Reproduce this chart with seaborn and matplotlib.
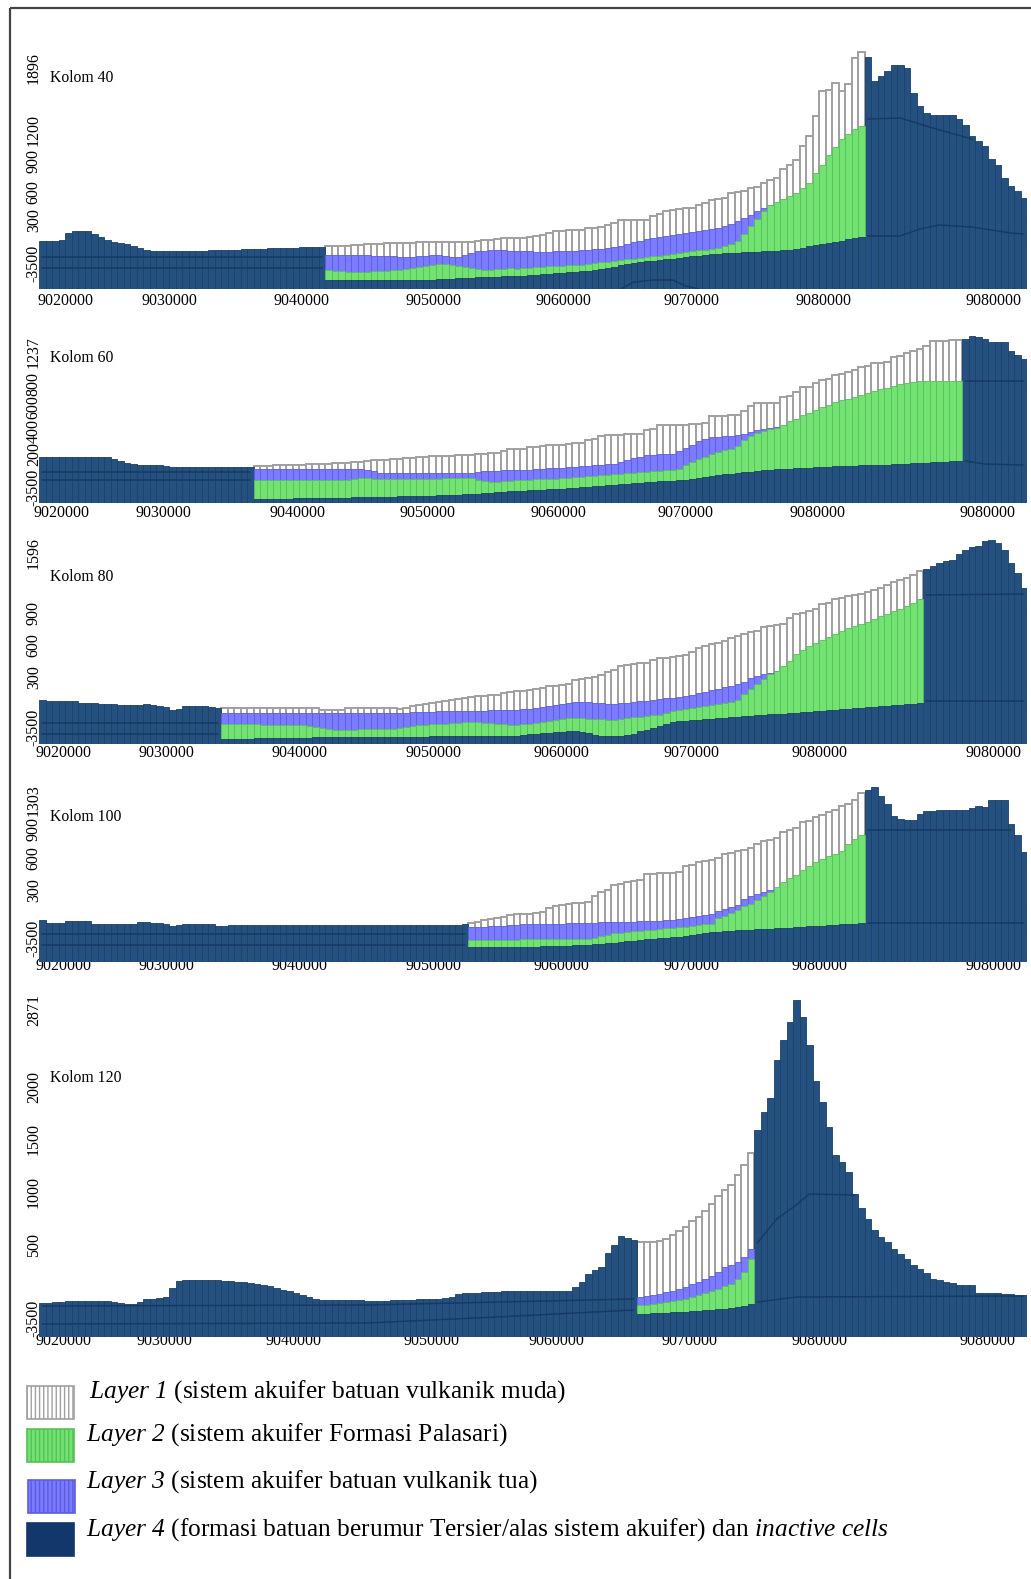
import numpy as np
import pandas as pd
import matplotlib
matplotlib.use("Agg")
import matplotlib.pyplot as plt
from matplotlib.patches import Rectangle
import seaborn as sns

# tinggi tiap kolom grid (1 satuan = 1 piksel di atas dasar panel)
kolom_40_top = [48,48,48,49,56,58,58,58,55,52,49,47,46,45,43,41,39] + [38]*9 + [39,39,39,39,39,40,40,40,40,41,41,41,41,41,42,42,42,42] \
    + [43,43,43,43,44,44,45,45,45,46,46,46,46,46,47,47,47,47,47,47,47,47,47,48,49,49,50,51,51] \
    + [51,51,52,53,54,56,58,58,59,59,59,61,61,62,64,66,69,69,69,69,69,73,75,78,79,80,81,81,84,86,89,90,91,96,97,98,101,102,106,109,111,120,124,129,143,153,173,198,199,206,198,205,231,237] \
    + [232,208,213,218,224,224,221,196,183,176,174,174,174,174,170,164,153,148,143,130,124,111,103,98,91]
kolom_40_start = 44
kolom_40_blue = [34]*7 + [33,33,33,33,32,32,32,33,33,34,34,33,32,32,34,36,38,38,39,39,39,38,38,38,38,37,37,37,38,38,38,38,39,39,40,40,41,42,43,45,47,48,50,51,52,53,54,55,56,57,58,59,60,61,63,65,68,71,74,78,81,84]
kolom_40_green = [19,18,18,17,17,17,17,18,18,18,19,19,20,21,22,23,24,25,25,24,23,22,21,20,19,19,20,20,21,20,21,21,22,22,23,23,23,24,24,24,25,26,27,27,28,29,30,30,31,32,33,33,34,35,36,37,38,39,39,40,41,43,45,48,55,63,70,78,84,87,90,93,96,101,106,116,124,134,142,150,155,160,163]
kolom_40_base = [9]*17 + [10,10,10,11,11,11,12,12,12,12,13,13,13,13,14,14,15,15,16,16,17,17,18,18,19,20,21,22,24,25,26,27,28,28,29,30,30,31,32,33,33,34,35,35,36,36,36,37,37,37,38,38,38,39,39,40,41,43,44,45,46,47,48,50,51,52]

kolom_60_top = [46]*11 + [44,42,40,39,38,38,38,38,37] + [36]*13 \
    + [37,37,37,38,38,38,38,38,39,39,39,39,40,40,40,41,41,42,43,43,43,44,44,45,45,46,46,47,47,47,47,48,48,48,49,49,50,50,52,54,54] \
    + [54,56,56,57,58,58,58,59,60,60,63,64,67,68,68,68,69,69,69,73,74,78,78,78,78,78,79,79,80,87,87,87,88,88,92,97,100,100,100,100,106,107,111,116,116,120,123,124,128,129,131,133,136,137,140,140,141,146,147,150,152,154,157,162,162,162,163,163] \
    + [164,167,166,164,161,161,161,152,148,144]
kolom_60_start = 33
kolom_60_blue = [34]*17 + [33,32] + [30]*15 + [31,32,32,32,33,33,33,33,33,34,34,35,35,35,36,36,37,37,38,38,39,39,41,43,45,46,48,48,49,49,49,52,55,58,62,64,66,66,67,67,68,69,71,73,74,75,76]
kolom_60_green = [23]*15 + [24,25,25,24] + [24]*10 + [25]*5 + [23,22,21,21,22,22,23,23,23,24,24,24,24,25,25,26,26,27,27,28,28,29,29,30,30,31,31,32,32,33,33,34,38,41,44,46,49,51,53,54,57,63,67,70,72,74,75,78,82,84,88,90,93,96,98,101,103,104,106,108,110,112,114,115,117,119,120,121] + [122]*7
kolom_60_base = [4,4,4,4,4,4,5,5,5,5,5,5,5,5,5,6,6,6,6,6,6,6,7,7,7,7,7,7,8,8,8,8,9,9,9,10,10,11,11,12,12,12,13,13,13,14,14,14,15,15,16,16,17,17,18,18,19,19,20,20,21,21,22,22,22,23,23,24,25,26,27,28,29,29,30,31,31,32,33,33,34,34,34,35,35,35,36,36,36,37,37,37,37,38,38,38,38,38,39,39,39,40,40,40,41,41,41,42,42]

kolom_80_top = [44,43,43,43,43,43,41,41,41,40,40,40,39,39,39,39,40,39,38,37,34,35,38,38,38,38,37,36] + [36]*15 + [34]*4 + [36]*8 \
    + [35,36,38,39,40,41,42,43,44,45,46,47,48,48,49,49,51,52,53] \
    + [53,54,55,56,58,58,59,60,64,65,66,67,69,72,74,78,79,80,81,81,84,86,86,87,88,89,92,96,98,100,101,103,106,108,110,112,113,117,118,119,120,126,130,131,133,135,140,141,145,146,148,149,150,152,154,156,159,162,164,166,169,173] \
    + [175,178,181,183,184,190,194,197,198,203,204,201,194,181,171,156]
kolom_80_start = 28
kolom_80_blue = [31]*27 + [31,31,32,32,32,32,33,33,33,33,33,33,33,33,34,34,34,34,34,35,35,36,37,38,39,40,41,42,42,42,41,41,40,40,41,41,42,43,43,44,45,46,46,47,48,49,51,52,54,55,57,58,60,62,66,68,70,71,73]
kolom_80_green = [20]*6 + [19]*6 + [19,18,17,16,15,14,14,14,14,15,15,15,15,15,15,16,17,18,19,19,20,20,20,21,21,22,22,22,21,21,20,20,19,19,20,20,21,22,23,24,25,26,26,26,25,25,25,24,24,25,26,27,27,28,29,29,31,33,34,35,36,37,38,39,40,41,42,44,50,55,60,65,70,73,78,83,90,94,98,101,104,107,110,113,116,118,120,122,125,128,130,133,135,138,141,145]
kolom_80_base = [5]*5 + [6]*9 + [7]*18 + [8]*14 + [9,10,10,11,11,12,12,13,13,12,11,9,8,8,8,8,9,10,13,14,16,18,20,22,23,23,24,24,25,25,26,26,27,27,28,28,29,29,30,30,30,31,31,32,32,33,33,34,34,35,35,36,36,37,37,38,38,39,39,40,40,41]

kolom_100_top = [42,39,39,39,41,41,41,41] + [38]*7 + [40,40,39,39,38,36,37,38,38,38,38,38,36,36] + [37]*36 + [38] \
    + [39,40,42,43,44,45,47,48,48,48,49,50,54,56,57,58,59,59,60,66,70,72,77,78,80,81,82,88,88,89,89,89,90,96,97,100,101,102,104,108,109,111,112,114,118,121,122,124,130,132,134,140,141,145,147,150,152,156,158,162,169] \
    + [172,175,166,158,146,143,142,142,148,151,151,152,152,152,152,152,154,156,155,162,162,162,138,127,110]
kolom_100_start = 66
kolom_100_blue = [35,35,35,36,36,36,37,37] + [38]*7 + [39]*5 + [40]*6 + [41,41,41,41,42,42,43,44,45,46,47,48,51,53,55,57,63,66,68,70,72]
kolom_100_green = [22]*8 + [23]*11 + [24,26,27,29,29,30,31,31,32,32,33,34,34,35,35,36,37,38,38,44,46,49,52,56,58,62,66,70,75,80,84,87,92,96,100,103,106,108,111,118,123,127]
kolom_100_base = [15]*11 + [16]*5 + [17]*3 + [18,18,19,19,20,21,21,22,23,23,24,24,25,25,26,27,28,29,30,30,31,31,32,32,32,33,33,33,34,34,34,35,35,36,36,36,37,37,38,38,38,39]

kolom_120_top = [34,34,35,35,36,36,36,36,36,36,36,35,34,33,33,35,38,38,39,40,49,56] + [57]*6 + [56,56,55,55,54,53,52,51,49,47,46,44,42,40,38,37] \
    + [37]*6 + [36,36,36,36,37,37,37,37,38,38,38,38,39,40,43,44,44,44,45,45,45,46,46,46] \
    + [46]*8 + [50,55,63,67,70,84,92,101,99,97] \
    + [95,95,95,96,98,102,106,110,116,120,126,133,141,147,152,162,172,184] \
    + [207,225,239,277,297,315,337,320,292,256,235,210,182,175,165,143,129,118,107,100,95,88,83,78,72,68,64,58,57,55,54,52,52,52,44,44,44,44,43,43,42,42]
kolom_120_start = 92
kolom_120_blue = [40,41,42,43,45,46,48,50,53,55,58,61,65,70,72,75,80,88]
kolom_120_green = [32,32,33,34,35,36,37,38,40,42,44,46,48,51,53,58,65,78]
kolom_120_base = [23,23,24,24,24,25,25,25,26,26,27,27,28,28,29,30,31,33]

# garis batas layer di dalam sel tidak aktif: (kolom, tinggi)
kolom_40_lines = [([0,43],[32,32]), ([0,43],[21,21]), ([89,91,94,97,99,101],[0,7,9,9,3,0]),
                  ([127,132,137,143],[170,171,161,150]), ([127,132,135,138,143,149,151],[53,53,60,64,62,56,55])]
kolom_60_lines = [([0,32],[31,31]), ([0,32],[23,23]), ([142,151],[122,122]), ([142,145,151],[42,39,38])]
kolom_80_lines = [([0,27],[21,21]), ([0,27],[10,10]), ([136,151],[149,150]), ([136,151],[43,43])]
kolom_100_lines = [([0,65],[28,28]), ([0,65],[17,17]), ([127,149],[132,132]), ([127,151],[39,39])]
kolom_120_lines = [([0,50,91],[31,32,38]), ([0,50,70,91],[13,14,20,27]), ([110,113,116,118,125],[94,118,132,143,142]),
                   ([110,116,151],[35,40,41])]

# label sumbu
x_labels = ["9020000","9030000","9040000","9050000","9060000","9070000","9080000","9080000"]
kolom_40_yticks = ["1896","1200","900","600","300","-3500"]
kolom_60_yticks = ["1237","800","600","400","200","-3500"]
kolom_80_yticks = ["1596","900","600","300","-3500"]
kolom_100_yticks = ["1303","900","600","300","-3500"]
kolom_120_yticks = ["2871","2000","1500","1000","500","-3500"]

legend_labels = [r"$\mathit{Layer\ 1}$ (sistem akuifer batuan vulkanik muda)",
                 r"$\mathit{Layer\ 2}$ (sistem akuifer Formasi Palasari)",
                 r"$\mathit{Layer\ 3}$ (sistem akuifer batuan vulkanik tua)",
                 r"$\mathit{Layer\ 4}$ (formasi batuan berumur Tersier/alas sistem akuifer) dan $\mathit{inactive\ cells}$"]

sns.set_style("white")
plt.rcParams["font.family"] = ["Liberation Serif", "DejaVu Serif"]
plt.rcParams["mathtext.fontset"] = "custom"
plt.rcParams["mathtext.it"] = "Liberation Serif:italic"
# angka di \mathit diambil dari font rm, jadi rm juga miring
plt.rcParams["mathtext.rm"] = "Liberation Serif:italic"
plt.rcParams["hatch.linewidth"] = 1.0

W, H = 1031, 1579
DARK, DARK_EDGE = "#255180", "#1b4069"
GREEN, GREEN_EDGE = "#72e272", "#58c058"
BLUE, BLUE_EDGE = "#7b7bff", "#5c5ce0"
GREY = "#a0a0a0"

fig = plt.figure(figsize=(W / 100, H / 100), dpi=100)
fig.patch.set_facecolor("white")


def bars(ax, df, col, color, edge, lw=0.6):
    part = df.dropna(subset=[col])
    sns.barplot(data=part, x="kol", y=col, native_scale=True, width=1, color=color,
                saturation=1, edgecolor=edge, linewidth=lw, ax=ax)


def panel(name, bottom, height, top, start, blue, green, base, lines, yt_labels, yt_pos, xt_px, pad, boxed, label_y):
    ax = fig.add_axes([39 / W, 1 - bottom / H, 988 / W, height / H])
    df = pd.DataFrame({"kol": np.arange(len(top)), "top": np.array(top, dtype=float)})
    end = start + len(green)
    df["blue"] = pd.Series(blue, index=range(start, start + len(blue)), dtype=float)
    df["green"] = pd.Series(green, index=range(start, end), dtype=float)
    df["base"] = pd.Series(base, index=range(start, start + len(base)), dtype=float)
    active = df["kol"].between(start, end - 1)
    df["white"] = df["top"].where(active)
    df["dark"] = df["top"].where(~active)

    bars(ax, df, "white", "white", GREY, 1.4)
    bars(ax, df, "dark", DARK, DARK_EDGE)
    bars(ax, df, "blue", BLUE, BLUE_EDGE)
    bars(ax, df, "green", GREEN, GREEN_EDGE)
    bars(ax, df, "base", DARK, DARK_EDGE)

    for xs, ys in lines:
        sns.lineplot(x=xs, y=ys, color="#163a63", linewidth=1.1, ax=ax, legend=False, errorbar=None)

    ax.set_xlim(-0.5, 151.5)
    ax.set_ylim(0, height)
    ax.set_xlabel("")
    ax.set_ylabel("")
    sns.despine(ax=ax, left=True, bottom=True)
    ax.patch.set_alpha(0)
    ax.set_xticks((np.array(xt_px) - 39) / 6.5 - 0.5, x_labels)
    ax.set_yticks(yt_pos, yt_labels)
    ax.tick_params(axis="x", length=0, pad=pad, labelsize=11.5, labelcolor="black")
    ax.tick_params(axis="y", length=0, pad=-2, labelsize=11.5, labelcolor="black")
    for t in ax.get_yticklabels():
        t.set_rotation(90)
        t.set_va("center")
    if boxed:
        for t in ax.get_xticklabels():
            t.set_bbox(dict(fc="white", ec="none", pad=1.5))
    fig.text(50 / W, 1 - label_y / H, name, fontsize=11.3, va="center", ha="left", color="black")


panel("Kolom 40", 289, 260, kolom_40_top, kolom_40_start, kolom_40_blue, kolom_40_green, kolom_40_base,
      kolom_40_lines, kolom_40_yticks, [221,159,128,97,69,26], [66,169,302,433,563,692,823,993], 3, False, 78)
panel("Kolom 60", 503, 175, kolom_60_top, kolom_60_start, kolom_60_blue, kolom_60_green, kolom_60_base,
      kolom_60_lines, kolom_60_yticks, [151,119,95.5,72,48.5,16], [61,163,297,427,558,686,817,988], 1.5, False, 358)
panel("Kolom 80", 744, 205, kolom_80_top, kolom_80_start, kolom_80_blue, kolom_80_green, kolom_80_base,
      kolom_80_lines, kolom_80_yticks, [191,131,99,67,17], [64,166,299,433,561,692,820,993], 1, True, 577)
panel("Kolom 100", 962, 185, kolom_100_top, kolom_100_start, kolom_100_blue, kolom_100_green, kolom_100_base,
      kolom_100_lines, kolom_100_yticks, [162,133,104,72,24], [64,166,299,433,561,692,820,993], -3, True, 817)
panel("Kolom 120", 1337, 345, kolom_120_top, kolom_120_start, kolom_120_blue, kolom_120_green, kolom_120_base,
      kolom_120_lines, kolom_120_yticks, [327,250,198,145,92,19], [64,164,294,431,556,689,820,988], -3, True, 1078)

# bingkai dan legenda manual, koordinat piksel gambar
over = fig.add_axes([0, 0, 1, 1], zorder=5)
over.set_xlim(0, W)
over.set_ylim(H, 0)
over.axis("off")
over.add_patch(Rectangle((9.5, 8), 1040, 1600, fill=False, ec="#444444", lw=1.6))

swatches = [(27, 1386, "white", GREY), (27, 1429, GREEN, GREEN_EDGE), (28, 1480, BLUE, BLUE_EDGE), (27, 1523, "#12386b", "#12386b")]
text_pos = [(89, 1392), (86, 1435), (86, 1482), (86, 1530)]
for (sx, sy, fc, ec), (tx, ty), lab in zip(swatches, text_pos, legend_labels):
    over.add_patch(Rectangle((sx, sy), 47, 33, fc=fc, ec=ec, hatch="||||" if fc != "#12386b" else None, lw=1.2))
    over.text(tx, ty, lab, fontsize=18.3, va="center", ha="left", color="black")

fig.savefig("out.png", dpi=100)
